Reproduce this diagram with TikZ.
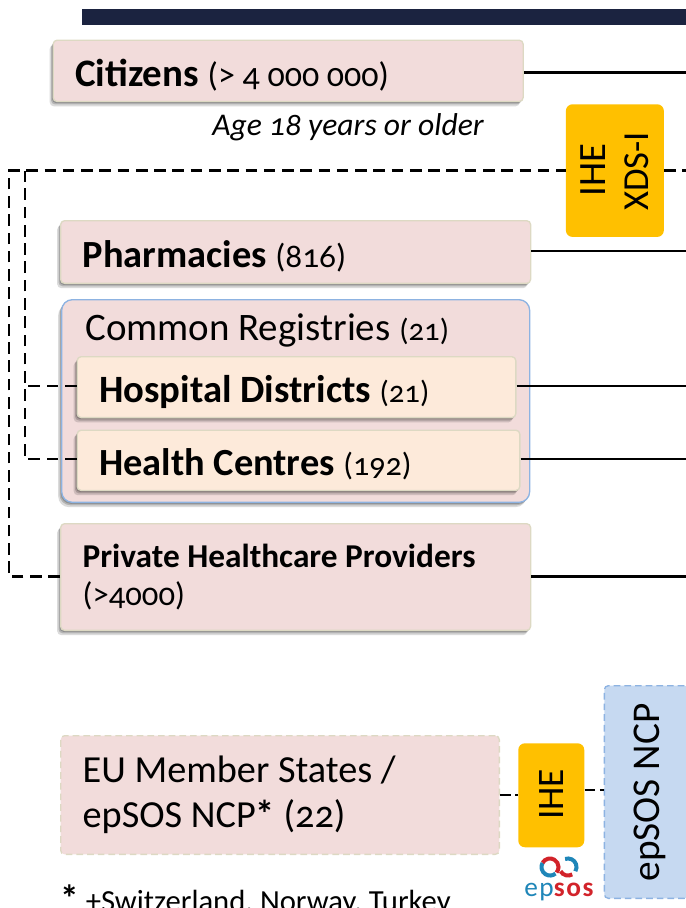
\documentclass[tikz,border=0pt]{standalone}
\usepackage{fontspec}
\setmainfont[Numbers=OldStyle]{Carlito}
\usetikzlibrary{shadows}
\definecolor{pinkbox}{HTML}{F2DCDB}
\definecolor{peachbox}{HTML}{FDEADA}
\definecolor{tanline}{HTML}{DDD9C3}
\definecolor{blueline}{HTML}{8DB3E2}
\definecolor{bluebox}{HTML}{C6D9F1}
\definecolor{amber}{HTML}{FFC000}
\definecolor{navybar}{HTML}{1B2340}
\definecolor{logored}{HTML}{D2232A}
\definecolor{logoblue}{HTML}{1F86B8}
\newcommand{\fs}[1]{\fontsize{#1}{#1}\selectfont}
\newcommand{\natspace}{\spaceskip=0pt \xspaceskip=0pt }
\tikzset{
  softshadow/.style={
    general shadow={shadow xshift=-0.8pt,shadow yshift=-1.2pt,opacity=.2,fill=black},
    general shadow={shadow xshift=-1.6pt,shadow yshift=-2.2pt,opacity=.18,fill=black},
    general shadow={shadow xshift=-2.6pt,shadow yshift=-3.6pt,opacity=.14,fill=black}},
  basebox/.style={anchor=north west,rounded corners=3pt,inner sep=0pt,align=left,
    line width=1pt},
  pinkrect/.style={basebox,fill=pinkbox,draw=tanline,softshadow},
  peachrect/.style={basebox,fill=peachbox,draw=tanline,softshadow},
  grouprect/.style={basebox,rounded corners=8pt,fill=pinkbox,draw=blueline,softshadow},
  dashpink/.style={basebox,fill=pinkbox,draw=tanline,dash pattern=on 5pt off 3pt},
  dashblue/.style={basebox,fill=bluebox,draw=blueline,dash pattern=on 5pt off 3pt},
  amberbox/.style={anchor=north west,rounded corners=5pt,fill=amber,inner sep=0pt},
  solidlink/.style={black,line width=1.8pt},
  dashlink/.style={black,line width=1.7pt,dash pattern=on 8.7pt off 5pt},
  shortdash/.style={black,line width=1.7pt,dash pattern=on 8pt off 3.5pt},
  plainlabel/.style={anchor=base west,inner sep=0pt},
  rotlabel/.style={rotate=90,anchor=center,inner sep=0pt},
  shiftdown/.style={text height=#1,text depth=0pt}
}
\begin{document}
\begin{tikzpicture}[x=0.75pt,y=-0.75pt]
\useasboundingbox (0,0) rectangle (686,908);
\clip (0,0) rectangle (686,908);
\fill[navybar] (82,9) rectangle (686,24.5);

\coordinate (endA) at (686,72.5);
\coordinate (endB) at (686,170.5);
\coordinate (endC) at (686,250.7);
\coordinate (endD) at (686,385.7);
\coordinate (endE) at (686,459);
\coordinate (endF) at (686,576.5);
\coordinate (outerTop) at (8.7,170.5);
\coordinate (innerTop) at (25,170.5);
\coordinate (euLevel) at (0,795);
\coordinate (ncpLevel) at (0,790);

\node[pinkrect,minimum width=352.5pt,minimum height=46pt,text width=319.5pt,shiftdown=23.6pt] (cit) at (52.5,39.5)
  {\natspace\fs{29.2}\textbf{Citizens} \fs{25.5}(> 4 000 000)};
\node[plainlabel] (age) at (212,135) {\fs{23.7}\itshape Age 18 years or older};

\node[amberbox,minimum width=73.5pt,minimum height=99.5pt] (xds) at (565.6,104) {};
\node[rotlabel] (xdsa) at (593,170) {\fs{29}IHE};
\node[rotlabel] (xdsb) at (637,171.5) {\fs{27.5}XDS-I};

\node[pinkrect,minimum width=352.5pt,minimum height=47pt,text width=319.5pt,shiftdown=22.8pt] (pha) at (60,220)
  {\natspace\fs{28.8}\textbf{Pharmacies} \fs{25}(816)};

\node[grouprect,minimum width=351pt,minimum height=152pt] (reg) at (61,299) {};
\node[plainlabel] (regt) at (85,340) {\fs{29.2}Common Registries \fs{23}(21)};
\node[peachrect,minimum width=329pt,minimum height=45.7pt,text width=296pt,shiftdown=22.8pt] (hos) at (76.5,356)
  {\natspace\fs{29}\textbf{Hospital Districts} \fs{23}(21)};
\node[peachrect,minimum width=332pt,minimum height=45.2pt,text width=299pt,shiftdown=22.8pt] (hea) at (76.5,429.5)
  {\natspace\fs{28.8}\textbf{Health Centres} \fs{24}(192)};

\node[pinkrect,minimum width=352.5pt,minimum height=80pt,text width=319.5pt,font=\fs{24.5}] (pri) at (60,523)
  {\natspace{\fs{25}\textbf{Private Healthcare Providers}}\\[4pt](>4000)};

\node[dashpink,minimum width=329pt,minimum height=89pt,text width=296pt,font=\fs{28.7}] (eu) at (60,735)
  {\natspace EU Member States /\\[4.8pt]epSOS NCP\textbf{*} (22)};
\node[amberbox,minimum width=49.5pt,minimum height=78pt] (ihe) at (518,743) {};
\node[rotlabel] (ihet) at (552,794.5) {\fs{28}IHE};
\node[dashblue,minimum width=63pt,minimum height=159.5pt] (ncp) at (603.7,685) {};
\node[rotlabel] (ncpt) at (650,792.5) {\fs{29.5}epSOS NCP};

\node[plainlabel] (foot) at (60,911) {\fs{23}{\fs{28}\textbf{*}} +Switzerland, Norway, Turkey};

% epSOS logo
\begin{scope}[line width=3pt]
  \draw[logoblue] (550,867) ++(150:6.4pt) arc[start angle=150,end angle=310,radius=6.4pt];
  \draw[logoblue] (568,867) ++(110:6.4pt) arc[start angle=110,end angle=-30,radius=6.4pt];
  \draw[logored] (550,867) ++(150:6.4pt) arc[start angle=150,end angle=-40,radius=6.4pt];
  \draw[logored] (568,867) ++(210:6.4pt) arc[start angle=210,end angle=300,radius=6.4pt];
\end{scope}
\node[plainlabel] (logo) at (524,896.5) {\fs{20.5}\addfontfeatures{LetterSpace=6}\textcolor{logoblue}{ep}\textbf{\textcolor{logored}{sos}}};

% solid connectors
\draw[solidlink] (cit.east |- endA) -- (endA);
\draw[solidlink] (pha.east |- endC) -- (endC);
\draw[solidlink] (hos.east |- endD) -- (endD);
\draw[solidlink] (hea.east |- endE) -- (endE);
\draw[solidlink] (pri.east |- endF) -- (endF);
% dashed connectors
\draw[dashlink] (pri.west |- endF) -- (outerTop |- endF) -- (outerTop) -- (xds.west |- endB);
\draw[dashlink] (xds.east |- endB) -- (endB);
\draw[dashlink] (hea.west |- endE) -- (innerTop |- endE) -- (innerTop);
\draw[dashlink] (hos.west |- endD) -- (innerTop |- endD);
\draw[shortdash] (eu.east |- euLevel) -- (ihe.west |- euLevel);
\draw[shortdash] (ihe.east |- ncpLevel) -- (ncp.west |- ncpLevel);
\end{tikzpicture}
\end{document}
